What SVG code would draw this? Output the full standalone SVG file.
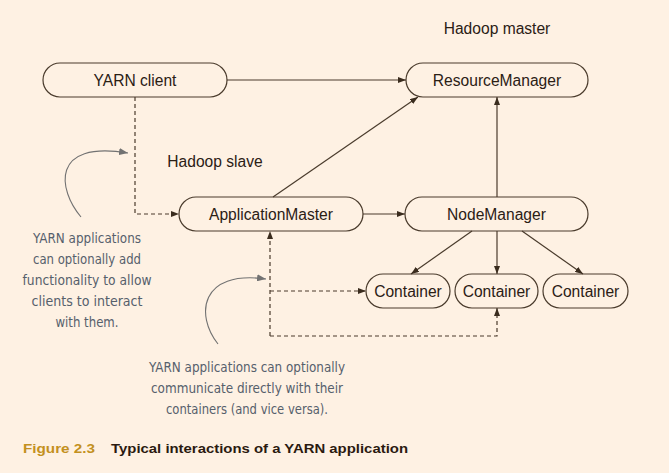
<svg xmlns="http://www.w3.org/2000/svg" width="669" height="473" viewBox="0 0 669 473">
<style>
.bg{fill:#fef1e3}
.node{fill:none;stroke:#4a3b2c;stroke-width:1.2}
.lbl{font-family:"Liberation Sans",Arial,sans-serif;font-size:15.6px;fill:#2b2015;text-anchor:middle}
.conn{fill:none;stroke:#4a3b2c;stroke-width:1.2}
.dash{stroke-dasharray:4 3}
.curve{fill:none;stroke:#727272;stroke-width:1.1}
.note{font-family:"DejaVu Sans Condensed","DejaVu Sans",sans-serif;font-size:14px;fill:#56606c;text-anchor:middle}
.cap{font-family:"Liberation Sans",Arial,sans-serif;font-size:13.4px;font-weight:bold}
</style>
<defs>
<marker id="ah" markerWidth="8" markerHeight="6" refX="8" refY="3" orient="auto" markerUnits="userSpaceOnUse">
<path d="M0,0 L8,3 L0,6 Z" fill="#3a2c1e"/>
</marker>
<marker id="ahg" markerWidth="9" markerHeight="7" refX="9" refY="3.5" orient="auto" markerUnits="userSpaceOnUse">
<path d="M0,0 L9,3.5 L0,7 Z" fill="#727272"/>
</marker>
</defs>
<rect class="bg" x="0" y="0" width="669" height="473"/>

<text class="lbl" x="497" y="34">Hadoop master</text>
<text class="lbl" x="215" y="167">Hadoop slave</text>

<g id="connectors">
<line class="conn" x1="227" y1="80" x2="406" y2="80" marker-end="url(#ah)"/>
<line class="conn" x1="273" y1="197" x2="418" y2="97" marker-end="url(#ah)"/>
<line class="conn" x1="497" y1="197" x2="497" y2="97" marker-end="url(#ah)"/>
<line class="conn" x1="363" y1="214" x2="405" y2="214" marker-end="url(#ah)"/>
<line class="conn" x1="472" y1="231" x2="411" y2="274" marker-end="url(#ah)"/>
<line class="conn" x1="497" y1="231" x2="497" y2="274" marker-end="url(#ah)"/>
<line class="conn" x1="522" y1="231" x2="583" y2="274" marker-end="url(#ah)"/>
<path class="conn dash" d="M135,97 V214 H179" marker-end="url(#ah)"/>
<path class="conn dash" d="M270,336 V231" marker-end="url(#ah)"/>
<path class="conn dash" d="M270,291 H366" marker-end="url(#ah)"/>
<path class="conn dash" d="M270,336 H497 V308" marker-end="url(#ah)"/>
</g>

<g id="yarn-client">
<rect class="node" x="43" y="63" width="184" height="34" rx="17"/>
<text class="lbl" x="135" y="85.5">YARN client</text>
</g>
<g id="resource-manager">
<rect class="node" x="406" y="63" width="182" height="34" rx="17"/>
<text class="lbl" x="497" y="85.5">ResourceManager</text>
</g>
<g id="application-master">
<rect class="node" x="179" y="197" width="184" height="34" rx="17"/>
<text class="lbl" x="271" y="219.5">ApplicationMaster</text>
</g>
<g id="node-manager">
<rect class="node" x="405" y="197" width="183" height="34" rx="17"/>
<text class="lbl" x="496.5" y="219.5">NodeManager</text>
</g>
<g id="container-1">
<rect class="node" x="366" y="274" width="84" height="34" rx="17"/>
<text class="lbl" x="408" y="296.5">Container</text>
</g>
<g id="container-2">
<rect class="node" x="455" y="274" width="83" height="34" rx="17"/>
<text class="lbl" x="496.5" y="296.5">Container</text>
</g>
<g id="container-3">
<rect class="node" x="543" y="274" width="85" height="34" rx="17"/>
<text class="lbl" x="585.5" y="296.5">Container</text>
</g>

<g id="note-1">
<path class="curve" d="M81,217 C58,190 50,140 128,153" marker-end="url(#ahg)"/>
<text class="note" x="87" y="243" textLength="108" lengthAdjust="spacingAndGlyphs">YARN applications</text>
<text class="note" x="87" y="264" textLength="108" lengthAdjust="spacingAndGlyphs">can optionally add</text>
<text class="note" x="87" y="285" textLength="129" lengthAdjust="spacingAndGlyphs">functionality to allow</text>
<text class="note" x="87" y="306" textLength="111" lengthAdjust="spacingAndGlyphs">clients to interact</text>
<text class="note" x="87" y="327" textLength="63" lengthAdjust="spacingAndGlyphs">with them.</text>
</g>
<g id="note-2">
<path class="curve" d="M218,344 C195,315 200,270 266,279" marker-end="url(#ahg)"/>
<text class="note" x="247" y="372" textLength="196" lengthAdjust="spacingAndGlyphs">YARN applications can optionally</text>
<text class="note" x="247" y="393" textLength="192" lengthAdjust="spacingAndGlyphs">communicate directly with their</text>
<text class="note" x="247" y="414" textLength="162" lengthAdjust="spacingAndGlyphs">containers (and vice versa).</text>
</g>

<text class="cap" x="23" y="453" fill="#c39020" textLength="72" lengthAdjust="spacingAndGlyphs">Figure 2.3</text>
<text class="cap" x="111" y="453" fill="#2b1a10" textLength="297" lengthAdjust="spacingAndGlyphs">Typical interactions of a YARN application</text>
</svg>
